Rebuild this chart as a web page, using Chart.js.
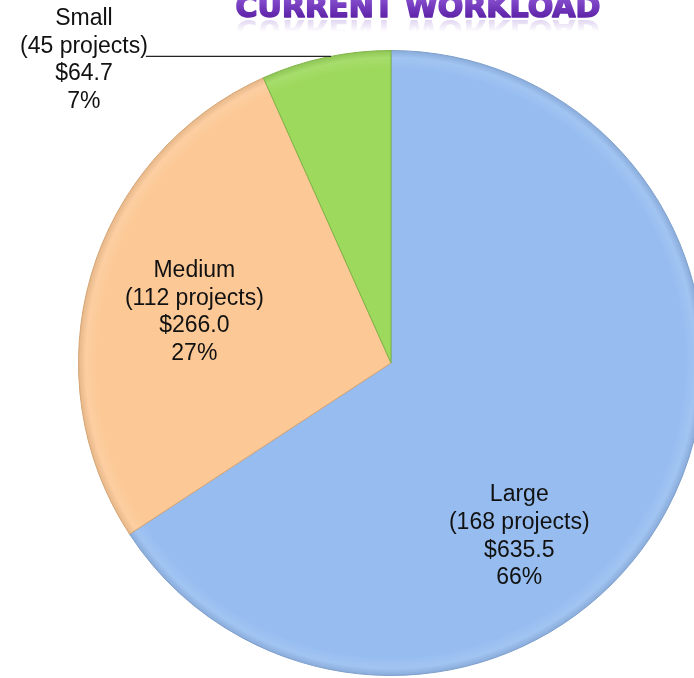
<!DOCTYPE html>
<html><head><meta charset="utf-8">
<script src="https://cdn.jsdelivr.net/npm/chart.js@4"></script>
<style>
html,body{margin:0;padding:0;overflow:hidden;background:#fff;width:694px;height:678px}
#wrap{position:absolute;left:0;top:0;width:782px;height:678px}
</style></head>
<body><div id="wrap"><canvas id="c" width="782" height="678"></canvas></div>
<script>
const titleText = 'CURRENT WORKLOAD';
const categories = ['Large', 'Medium', 'Small'];
const projects = [168, 112, 45];
const values = [635.5, 266.0, 64.7];
const percents = ['66%', '27%', '7%'];
const colors = ['#97BDF0', '#FCC996', '#9DD95C'];
const edgeColors = ['#7E9FCC', '#D6A574', '#7DB445'];
// label anchor: angle (deg clockwise from 12 o'clock) and distance as fraction of radius
const labelAnchors = [{ang: 143.5, r: 0.69}, {ang: 284.5, r: 0.65}, {ang: 314.6, r: 1.38}];

function lighten(hex, f) {
  const n = parseInt(hex.slice(1), 16);
  let r = (n >> 16) & 255, g = (n >> 8) & 255, b = n & 255;
  r = Math.round(r + (255 - r) * f); g = Math.round(g + (255 - g) * f); b = Math.round(b + (255 - b) * f);
  return `rgb(${r},${g},${b})`;
}
function darken(hex, f) {
  const n = parseInt(hex.slice(1), 16);
  let r = (n >> 16) & 255, g = (n >> 8) & 255, b = n & 255;
  return `rgb(${Math.round(r*(1-f))},${Math.round(g*(1-f))},${Math.round(b*(1-f))})`;
}

const labelPlugin = {
  id: 'labels',
  afterDraw(chart) {
    const ctx = chart.ctx;
    const arcs = chart.getDatasetMeta(0).data;
    ctx.save();
    ctx.font = '23px "Liberation Sans", Arial, sans-serif';
    ctx.fillStyle = '#111';
    ctx.textAlign = 'center';
    ctx.textBaseline = 'middle';
    const lh = 27.8;
    arcs.forEach((arc, i) => {
      const a = labelAnchors[i];
      const rad = (a.ang - 90) * Math.PI / 180;
      const cx = arc.x + Math.cos(rad) * arc.outerRadius * a.r;
      const cy = arc.y + Math.sin(rad) * arc.outerRadius * a.r;
      const lines = [categories[i], '(' + projects[i] + ' projects)', '$' + values[i].toFixed(1), percents[i]];
      const top = cy - lh * 1.5;
      lines.forEach((t, k) => ctx.fillText(t, cx, top + k * lh));
      if (a.r > 1) {
        // leader line from label's second line to pie edge
        const ly = top + lh + 10;
        const w = ctx.measureText(lines[1]).width;
        const x0 = cx + w / 2 - 2;
        const dy = ly - arc.y;
        const x1 = arc.x - Math.sqrt(Math.max(0, arc.outerRadius * arc.outerRadius - dy * dy));
        ctx.strokeStyle = '#222';
        ctx.lineWidth = 1.3;
        ctx.beginPath();
        ctx.moveTo(x0, ly); ctx.lineTo(x1, ly);
        ctx.stroke();
      }
    });
    // title
    ctx.font = 'bold 30px "DejaVu Sans", sans-serif';
    ctx.textAlign = 'center';
    ctx.textBaseline = 'alphabetic';
    const tx = 418, ty = 17;
    const g = ctx.createLinearGradient(0, -6, 0, ty);
    g.addColorStop(0, '#9058D8');
    g.addColorStop(1, '#5F24A8');
    ctx.fillStyle = g;
    ctx.strokeStyle = g;
    ctx.lineWidth = 1.6;
    ctx.lineJoin = 'round';
    ctx.fillText(titleText, tx, ty);
    ctx.strokeText(titleText, tx, ty);
    // faint fading reflection
    ctx.save();
    ctx.translate(0, ty * 2 + 3);
    ctx.scale(1, -1);
    const rg = ctx.createLinearGradient(0, ty, 0, ty - 12);
    rg.addColorStop(0, 'rgba(120,70,190,0.22)');
    rg.addColorStop(1, 'rgba(120,70,190,0)');
    ctx.fillStyle = rg;
    ctx.fillText(titleText, tx, ty);
    ctx.restore();
    ctx.restore();
  }
};

new Chart(document.getElementById('c'), {
  type: 'pie',
  data: {
    labels: categories,
    datasets: [{
      data: values,
      backgroundColor: (c) => {
        const chart = c.chart;
        const area = chart.chartArea;
        if (!area) return colors[c.dataIndex];
        const cx = (area.left + area.right) / 2, cy = (area.top + area.bottom) / 2;
        const R = Math.min(area.right - area.left, area.bottom - area.top) / 2;
        const g = chart.ctx.createRadialGradient(cx, cy, 0, cx, cy, R);
        const col = colors[c.dataIndex];
        g.addColorStop(0, col);
        g.addColorStop(0.94, col);
        g.addColorStop(0.975, lighten(col, 0.1));
        g.addColorStop(1, darken(col, 0.1));
        return g;
      },
      borderColor: edgeColors,
      borderWidth: 1
    }]
  },
  options: {
    responsive: false,
    animation: false,
    layout: {padding: {top: 50, bottom: 2, left: 0, right: 0}},
    plugins: {legend: {display: false}, tooltip: {enabled: false}, title: {display: false}}
  },
  plugins: [labelPlugin]
});
</script>
</body></html>
